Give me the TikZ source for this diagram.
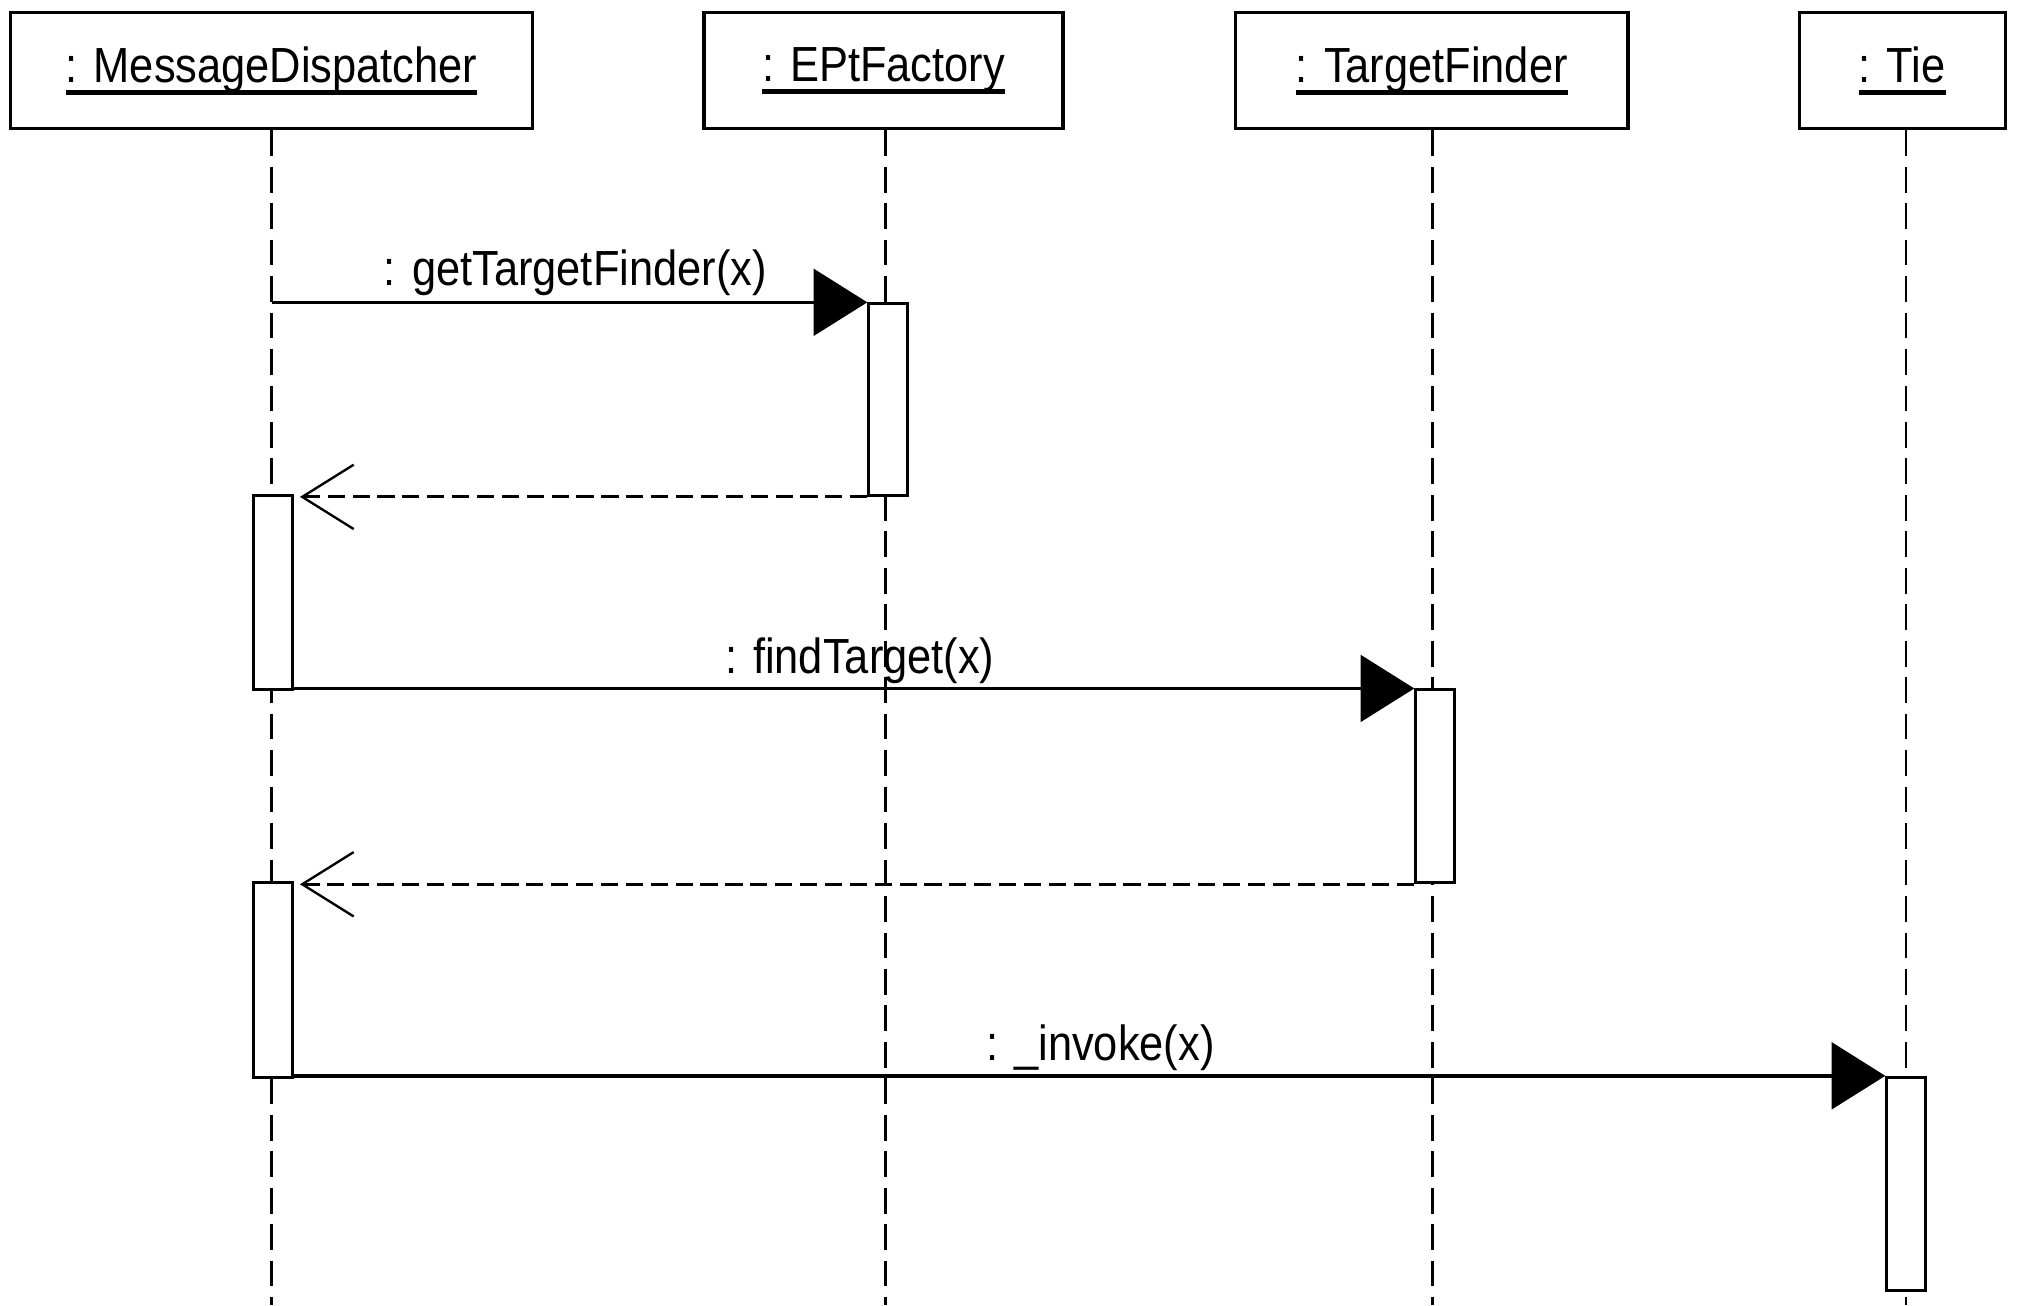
\documentclass[tikz,border=0pt]{standalone}
\usepackage{fontspec}
\newfontfamily\umlfont[FakeStretch=0.88]{Liberation Sans}
\usetikzlibrary{arrows.meta}
% underlined object name with a heavy rule
\newcommand\objname[1]{\setbox0\hbox{#1}\rlap{\rule[-6pt]{\wd0}{2.2pt}}\box0}
\begin{document}
\begin{tikzpicture}[x=0.6pt,y=-0.6pt,
  every node/.style={font=\umlfont\fontsize{23}{26}\selectfont},
  objbox/.style={draw,line width=1.5pt,fill=white,minimum height=54pt,inner sep=0pt},
  lifeline/.style={line width=1pt,dash pattern=on 12pt off 5pt},
  act/.style={draw,line width=1.3pt,fill=white,minimum width=18pt,inner sep=0pt},
  call/.style={line width=1.6pt,-{Triangle[length=25pt,width=31pt]}},
  ret/.style={line width=1.5pt,dash pattern=on 8pt off 3.6pt,
    -{Straight Barb[length=24pt,width=30pt,line width=1.1pt]}},
  msg/.style={inner sep=0pt,anchor=base}
]
\useasboundingbox (0,0) rectangle (1568,1014);

% objects
\node[objbox,minimum width=243.6pt] (md)  at (211,55)    {\objname{: MessageDispatcher}};
\node[objbox,minimum width=167.4pt] (ef)  at (686.5,55)  {\objname{: EPtFactory}};
\node[objbox,minimum width=183pt]   (tf)  at (1112.5,55) {\objname{: TargetFinder}};
\node[objbox,minimum width=96pt]    (tie) at (1478,55)   {\objname{: Tie}};

% lifeline ends
\coordinate (mdEnd)  at (211,1014);
\coordinate (efEnd)  at (688,1014);
\coordinate (tfEnd)  at (1113,1014);
\coordinate (tieEnd) at (1481,1014);

\draw[lifeline] (md.south -| mdEnd) -- (mdEnd);
\draw[lifeline] (ef.south -| efEnd) -- (efEnd);
\draw[lifeline] (tf.south -| tfEnd) -- (tfEnd);
\draw[lifeline] (tie.south -| tieEnd) -- (tieEnd);

% activations
\node[act,minimum height=89.4pt] (aEF)  at (690,310.5)  {};
\node[act,minimum height=90.6pt] (aMD1) at (212,460.5)  {};
\node[act,minimum height=90pt]   (aTF)  at (1115,611)   {};
\node[act,minimum height=90.6pt] (aMD2) at (212,761.5)  {};
\node[act,minimum height=99.6pt] (aTie) at (1481,920)   {};

% messages
\draw[call] (aEF.north west -| mdEnd) -- (aEF.north west);
\node[msg] (m1) at (447,222) {: getTargetFinder(x)};

\draw[ret] (aEF.south west) -- ([xshift=3pt]aEF.south west -| aMD1.east);

\draw[call] (aTF.north west -| aMD1.east) -- (aTF.north west);
\node[msg] (m2) at (668,523) {: findTarget(x)};

\draw[ret] (aTF.south west) -- ([xshift=3pt]aTF.south west -| aMD2.east);

\draw[call] (aTie.north west -| aMD2.east) -- (aTie.north west);
\node[msg] (m3) at (855,824) {: \_invoke(x)};
\end{tikzpicture}
\end{document}
